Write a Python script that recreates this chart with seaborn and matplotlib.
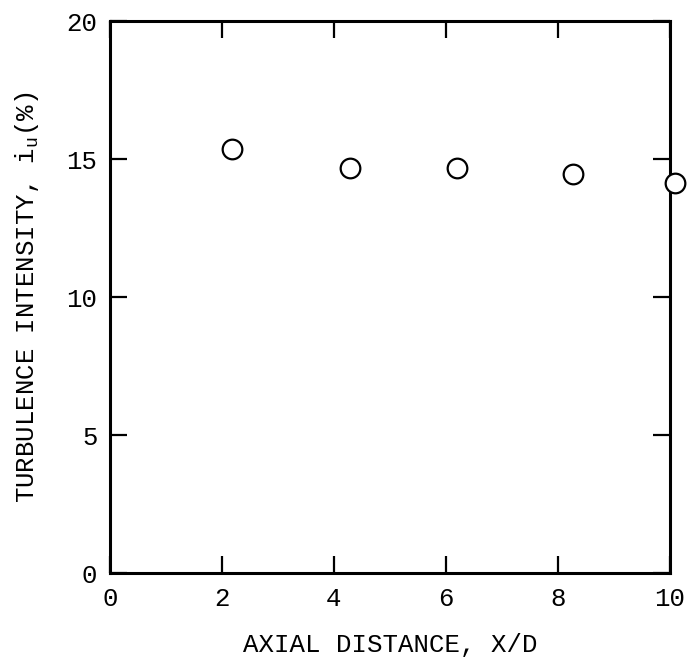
import matplotlib
matplotlib.use("Agg")
import matplotlib.pyplot as plt
import seaborn as sns
import pandas as pd

# values
axial_distance = [2.18, 4.29, 6.2, 8.27, 10.09]
turbulence_intensity = [15.36, 14.67, 14.67, 14.45, 14.13]
x_ticks = [0, 2, 4, 6, 8, 10]
y_ticks = [0, 5, 10, 15, 20]

sns.set_style("ticks")
plt.rcParams['font.family'] = ['Liberation Mono', 'DejaVu Sans']
plt.rcParams['mathtext.fontset'] = 'custom'
plt.rcParams['mathtext.rm'] = 'Liberation Mono'

df = pd.DataFrame({'x': axial_distance, 'y': turbulence_intensity})

fig = plt.figure(figsize=(6.93, 6.64), dpi=100)
ax = fig.add_axes([0.1587, 0.137, 0.8081, 0.8313])

sns.scatterplot(data=df, x='x', y='y', ax=ax, s=200, marker='o',
                facecolor='white', edgecolor='black', linewidth=1.6,
                clip_on=False, zorder=5)

ax.set_xlim(0, 10)
ax.set_ylim(0, 20)
ax.set_xticks(x_ticks)
ax.set_yticks(y_ticks)

for side in ['left', 'right', 'top', 'bottom']:
    ax.spines[side].set_visible(True)
    ax.spines[side].set_linewidth(2.2)
    ax.spines[side].set_color('black')

ax.tick_params(direction='in', length=12, width=1.6, color='black',
               top=True, right=True, labelsize=18.5, labelcolor='black')
ax.tick_params(axis='x', pad=10)
ax.tick_params(axis='y', pad=9)

ax.set_xlabel('AXIAL DISTANCE, X/D', fontsize=18.5, labelpad=16, color='black')
ax.set_ylabel(r'TURBULENCE INTENSITY, i$_{\mathregular{u}}$(%)', fontsize=18.5,
              labelpad=18, color='black')

fig.savefig('out.png', dpi=100)
